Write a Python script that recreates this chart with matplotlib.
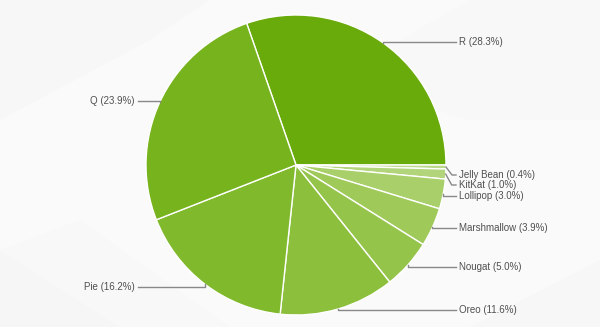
import numpy as np
import matplotlib
matplotlib.use("Agg")
import matplotlib.pyplot as plt
from matplotlib.patches import Polygon

# android version share, clockwise from the top
versions = ["R", "Jelly Bean", "KitKat", "Lollipop", "Marshmallow",
            "Nougat", "Oreo", "Pie", "Q"]
shares = [28.3, 0.4, 1.0, 3.0, 3.9, 5.0, 11.6, 16.2, 23.9]

colors = ["#6aab0c", "#bcd98a", "#b2d47a", "#a8cf69", "#9fca5a",
          "#95c44b", "#8bbf3c", "#80b92c", "#76b31d"]

# label rows (pixel y, top origin) and side
label_y = [42, 175, 185, 196, 228, 267, 310, 287, 101]
label_side = ["r", "r", "r", "r", "r", "r", "r", "l", "l"]

W, H = 600, 327
cx, cy, rad = 296, 162, 150

fig = plt.figure(figsize=(6, 3.27), dpi=100)
fig.patch.set_facecolor("#fafafa")
ax = fig.add_axes([0, 0, 1, 1])
ax.set_xlim(0, W)
ax.set_ylim(0, H)
ax.set_aspect("equal")
ax.axis("off")

# faint background shapes
bg = [
    ([(0, 327), (120, 327), (0, 250)], "#f6f6f6"),
    ([(0, 250), (120, 327), (230, 327), (80, 220)], "#f8f8f8"),
    ([(470, 327), (600, 327), (600, 260)], "#f7f7f7"),
    ([(330, 80), (470, 0), (600, 0), (600, 120), (470, 120)], "#f8f8f8"),
    ([(0, 120), (150, 40), (210, 0), (0, 0)], "#f7f7f7"),
]
for pts, c in bg:
    ax.add_patch(Polygon([(x, H - y) for x, y in pts], closed=True,
                         facecolor=c, edgecolor="none", zorder=0))

total = sum(shares)
start = 360 * shares[0] / total
wedges, _ = ax.pie(shares, colors=colors, startangle=start, counterclock=False,
                   center=(cx, cy), radius=rad, frame=True,
                   wedgeprops=dict(edgecolor="white", linewidth=1))
ax.set_xlim(0, W)
ax.set_ylim(0, H)
ax.axis("off")

tc = "#505050"
for w, name, v, ly, side in zip(wedges, versions, shares, label_y, label_side):
    mid = np.deg2rad((w.theta1 + w.theta2) / 2)
    ex = cx + rad * np.cos(mid)
    ey = cy + rad * np.sin(mid)
    ty = H - ly
    if side == "r":
        tx = 459
        k = 0 if abs(ey - ty) < 3 else min(6, abs(ey - ty) * 0.8)
        xs = [ex, ex + k, tx - 3]
        ha = "left"
    else:
        tx = 135
        xs = [ex, ex, tx + 3]
        ha = "right"
    ax.plot(xs, [ey, ty, ty], color="#888888", lw=1, zorder=3)
    ax.text(tx, ty, f"{name} ({v:.1f}%)", ha=ha, va="center", fontsize=7,
            color=tc, family=["Liberation Sans", "DejaVu Sans"])

fig.savefig("out.png", dpi=100, facecolor=fig.get_facecolor())
